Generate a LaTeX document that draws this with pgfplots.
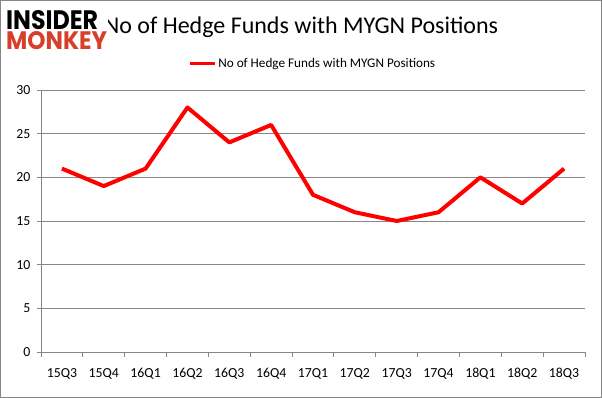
\documentclass[border=0pt]{standalone}
\usepackage{pgfplots}
\pgfplotsset{compat=1.18}
\usepackage{fontspec}
\setmainfont{Carlito}
\newfontfamily\logofont{Poppins}[UprightFont=* Bold]
\definecolor{axgray}{RGB}{134,134,134}
\definecolor{logored}{RGB}{214,64,42}
\newcommand\tlf{\fontsize{13.8}{16}\selectfont}
\begin{document}
\begin{tikzpicture}[x=1pt,y=1pt]
\path[use as bounding box] (0,0) rectangle (602,398);
\draw[axgray,line width=1pt] (0.5,0.5) rectangle (601.5,397.5);
\node[font=\fontsize{24}{28}\selectfont] at (301,371) {No of Hedge Funds with MYGN Positions};
\fill[white] (4,346) rectangle (108,392);
\node[anchor=south west, inner sep=0pt] at (6,368) {\resizebox{92pt}{19pt}{\logofont INSIDER}};
\node[anchor=south west, inner sep=0pt, text=logored] at (6,348) {\resizebox{101pt}{18pt}{\logofont MONKEY}};
\begin{axis}[
  at={(41pt,46pt)}, anchor=south west,
  scale only axis, width=544pt, height=262pt,
  xmin=-0.5, xmax=12.5, ymin=0, ymax=30,
  axis x line*=bottom, axis y line*=left,
  axis line style={axgray, line width=0.9pt},
  xtick={0,...,12},
  xticklabels={15Q3,15Q4,16Q1,16Q2,16Q3,16Q4,17Q1,17Q2,17Q3,17Q4,18Q1,18Q2,18Q3},
  minor xtick={-0.5,0.5,...,12.5},
  major x tick style={draw=none},
  minor x tick style={axgray, line width=0.9pt},
  minor tick length=5pt,
  ytick={0,5,...,30},
  ymajorgrids, major grid style={axgray, line width=0.9pt},
  major y tick style={axgray, line width=0.9pt},
  major tick length=4pt,
  tick align=outside,
  /pgf/number format/assume math mode=true,
  every tick label/.append style={font=\tlf},
  xticklabel style={yshift=-9pt},
  yticklabel style={xshift=-3pt},
  legend style={at={(0.5,1.0)}, yshift=36pt, anchor=north, draw=none, font=\fontsize{13.2}{16}\selectfont, legend cell align=left},
  legend image code/.code={\draw[#1, line width=2.5pt] (0pt,0pt) -- (25pt,0pt);},
  clip=false,
]
\addplot[red, line width=4pt, line join=round] coordinates {
(0,21) (1,19) (2,21) (3,28) (4,24) (5,26) (6,18) (7,16) (8,15) (9,16) (10,20) (11,17) (12,21)};
\addlegendentry{No of Hedge Funds with MYGN Positions}
\end{axis}
\end{tikzpicture}
\end{document}
